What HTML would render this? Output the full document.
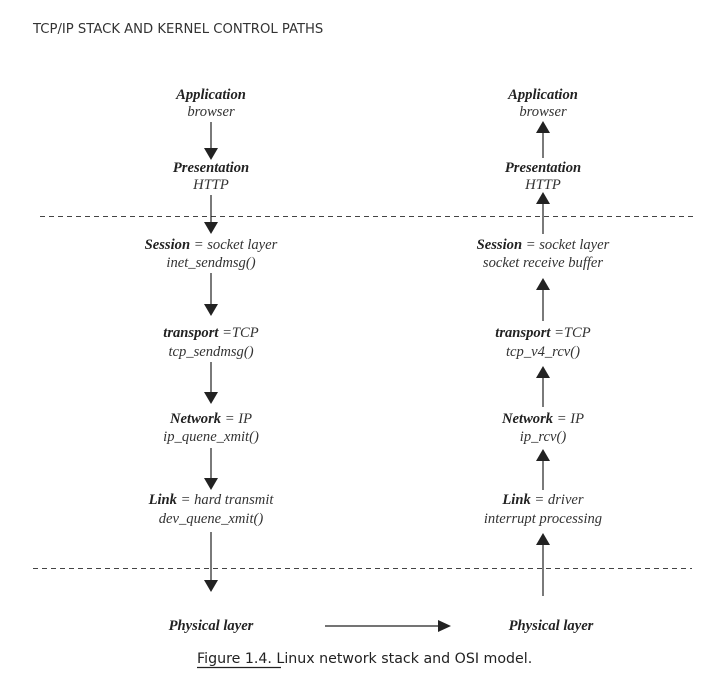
<!DOCTYPE html>
<html><head><meta charset="utf-8"><style>
html,body{margin:0;padding:0;background:#fff}
svg{display:block}
.t{font-family:"Liberation Serif",serif;font-style:italic;font-size:14.6px;fill:#333}
.b{font-weight:bold;fill:#222}
</style></head><body>
<svg width="712" height="686" viewBox="0 0 712 686" xmlns="http://www.w3.org/2000/svg">
<text x="33" y="33" font-family="DejaVu Sans, Liberation Sans, sans-serif" font-size="13.2" fill="#333">TCP/IP STACK AND KERNEL CONTROL PATHS</text>
<g stroke="#444" stroke-width="1" stroke-dasharray="5,4">
<line x1="40" y1="216.5" x2="697" y2="216.5"/>
<line x1="33" y1="568.5" x2="692" y2="568.5"/>
</g>
<g stroke="#222" stroke-width="1.2">
<line x1="211" y1="122" x2="211" y2="150"/>
<line x1="211" y1="195" x2="211" y2="224"/>
<line x1="211" y1="273" x2="211" y2="306"/>
<line x1="211" y1="362" x2="211" y2="394"/>
<line x1="211" y1="448" x2="211" y2="480"/>
<line x1="211" y1="532" x2="211" y2="582"/>
<line x1="543" y1="130" x2="543" y2="158"/>
<line x1="543" y1="202" x2="543" y2="234"/>
<line x1="543" y1="288" x2="543" y2="321"/>
<line x1="543" y1="376" x2="543" y2="407"/>
<line x1="543" y1="459" x2="543" y2="490"/>
<line x1="543" y1="542" x2="543" y2="596"/>
<line x1="325" y1="626" x2="440" y2="626"/>
</g>
<g fill="#222">
<polygon points="204,148 218,148 211,160"/>
<polygon points="204,222 218,222 211,234"/>
<polygon points="204,304 218,304 211,316"/>
<polygon points="204,392 218,392 211,404"/>
<polygon points="204,478 218,478 211,490"/>
<polygon points="204,580 218,580 211,592"/>
<polygon points="536,133 550,133 543,121"/>
<polygon points="536,204 550,204 543,192"/>
<polygon points="536,290 550,290 543,278"/>
<polygon points="536,378 550,378 543,366"/>
<polygon points="536,461 550,461 543,449"/>
<polygon points="536,545 550,545 543,533"/>
<polygon points="438,620 438,632 451,626"/>
</g>
<g class="t" text-anchor="middle">
<text x="211" y="99" class="t b">Application</text>
<text x="211" y="116">browser</text>
<text x="211" y="172" class="t b">Presentation</text>
<text x="211" y="189">HTTP</text>
<text x="211" y="249"><tspan class="b">Session</tspan> = socket layer</text>
<text x="211" y="267">inet_sendmsg()</text>
<text x="211" y="337"><tspan class="b">transport</tspan> =TCP</text>
<text x="211" y="356">tcp_sendmsg()</text>
<text x="211" y="423"><tspan class="b">Network</tspan> = IP</text>
<text x="211" y="441">ip_quene_xmit()</text>
<text x="211" y="504"><tspan class="b">Link</tspan> = hard transmit</text>
<text x="211" y="523">dev_quene_xmit()</text>
<text x="211" y="630" class="t b">Physical layer</text>
<text x="543" y="99" class="t b">Application</text>
<text x="543" y="116">browser</text>
<text x="543" y="172" class="t b">Presentation</text>
<text x="543" y="189">HTTP</text>
<text x="543" y="249"><tspan class="b">Session</tspan> = socket layer</text>
<text x="543" y="267">socket receive buffer</text>
<text x="543" y="337"><tspan class="b">transport</tspan> =TCP</text>
<text x="543" y="356">tcp_v4_rcv()</text>
<text x="543" y="423"><tspan class="b">Network</tspan> = IP</text>
<text x="543" y="441">ip_rcv()</text>
<text x="543" y="504"><tspan class="b">Link</tspan> = driver</text>
<text x="543" y="523">interrupt processing</text>
<text x="551" y="630" class="t b">Physical layer</text>
</g>
<text x="197" y="663" font-family="DejaVu Sans, Liberation Sans, sans-serif" font-size="14.2" fill="#222">Figure 1.4. Linux network stack and OSI model.</text>
<line x1="197" y1="667.5" x2="281" y2="667.5" stroke="#222" stroke-width="1.2"/>
</svg>
</body></html>
